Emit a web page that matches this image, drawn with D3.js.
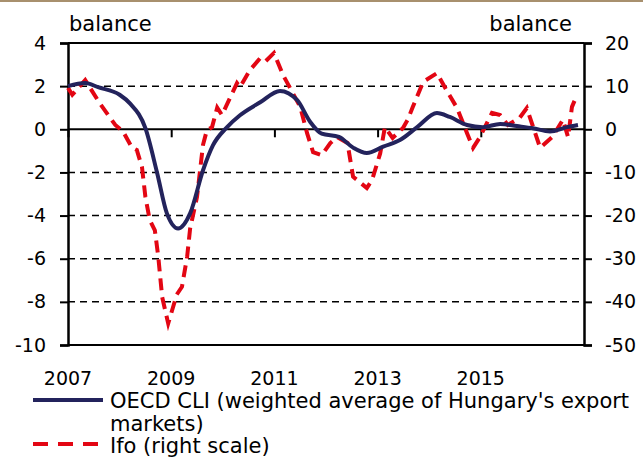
<!DOCTYPE html>
<html>
<head>
<meta charset="utf-8">
<script src="https://cdn.jsdelivr.net/npm/d3@7"></script>
<style>
	body { margin: 0; background: #fff; }
	svg { display: block; font-family: 'DejaVu Sans', sans-serif; }
</style>
</head>
<body>
<svg id="chart" width="643" height="461"></svg>
<script>
// months counted from Jan 2007
const yearLabels = ['2007', '2009', '2011', '2013', '2015'];
const yearTickMonths = [0, 24, 48, 72, 96];
const leftTicks = [4, 2, 0, -2, -4, -6, -8, -10];
const rightTicks = [20, 10, 0, -10, -20, -30, -40, -50];

// OECD CLI, left scale
const cliMonth = [0, 4, 7, 12, 14.4, 18, 20.7, 23, 25.6, 28.4, 31.4, 33.7, 37, 40, 44.7, 49.3, 53.3, 56.3, 59, 63, 66.3, 69.5, 73.3, 77.2, 81.2, 85.8, 88.8, 92.8, 96.5, 100.5, 104.4, 108.1, 112.1, 116, 118.6];
const cliValue = [2.0, 2.15, 1.95, 1.6, 1.2, 0.05, -2.0, -3.9, -4.6, -3.9, -1.9, -0.75, 0.1, 0.65, 1.25, 1.78, 1.35, 0.35, -0.2, -0.35, -0.85, -1.1, -0.8, -0.5, 0.1, 0.75, 0.57, 0.2, 0.1, 0.25, 0.15, 0.05, -0.1, 0.1, 0.2];

// Ifo, right scale
const ifoMonth = [0, 1, 4, 7.4, 11, 12.8, 14.9, 16, 17.2, 18, 19, 20.2, 21, 21.9, 23.3, 25.3, 26.5, 27.7, 28.4, 30, 31.4, 32.3, 33.5, 34.7, 35.8, 39.3, 40, 42.3, 44.7, 46, 47.9, 50, 54, 55.6, 57, 59, 61, 62.6, 65, 66.3, 69.5, 70.7, 72.6, 73.7, 75.5, 77.9, 79, 80.2, 82.6, 85.8, 88, 90.5, 92.8, 94.2, 95.8, 98.6, 100.5, 102.3, 105, 106.7, 109.8, 112.6, 115.1, 116.3, 117.2, 118.4];
const ifoValue = [9.6, 8, 11.4, 6, 1, -0.5, -4.3, -4.8, -8.7, -15.7, -21, -23.4, -29.6, -38.9, -45, -38.3, -36.5, -29.6, -23, -15.7, -3.6, -0.2, 0.5, 5, 3.3, 10.7, 9.8, 13.7, 16.5, 15.8, 17.7, 12.6, 5.2, -0.9, -5.3, -6, -3.2, -1.8, -3.2, -11, -13.6, -11.8, -5.6, 0.5, -2, 0.3, 2.2, 5.2, 11, 13, 9.1, 4.9, -0.9, -4.3, -1.8, 3.8, 3.3, 1, 2.6, 4.9, -4.3, -1.8, 2.2, -1.8, 5.2, 8];

const cliColor = '#23235c';
const ifoColor = '#e30613';

const svg = d3.select('#chart');
const margin = { left: 68, right: 584, top: 43, bottom: 345 };

const x = d3.scaleLinear().domain([0, 120]).range([margin.left, margin.right]);
const yLeft = d3.scaleLinear().domain([-10, 4]).range([margin.bottom, margin.top]);
const yRight = d3.scaleLinear().domain([-50, 20]).range([margin.bottom, margin.top]);

// top frame stripe
svg.append('rect')
	.attr('x', 0).attr('y', 0)
	.attr('width', 643).attr('height', 2)
	.style('fill', '#a8906e');

// gridlines
svg.append('g')
	.selectAll('line')
	.data(leftTicks)
	.enter()
	.append('line')
	.attr('x1', margin.left)
	.attr('x2', margin.right)
	.attr('y1', d => yLeft(d))
	.attr('y2', d => yLeft(d))
	.style('stroke', '#000')
	.style('stroke-width', d => (d == 4 || d == 0 || d == -10) ? 2 : 1.5)
	.style('stroke-dasharray', d => (d == 4 || d == 0 || d == -10) ? null : '7,5');

// left axis
let leftAxis = svg.append('g')
	.attr('transform', 'translate(' + margin.left + ',0)')
	.call(d3.axisLeft(yLeft).tickValues(leftTicks).tickSize(8).tickPadding(14).tickFormat(d => String(d)));

// right axis
let rightAxis = svg.append('g')
	.attr('transform', 'translate(' + margin.right + ',0)')
	.call(d3.axisRight(yRight).tickValues(rightTicks).tickSize(8).tickPadding(13).tickFormat(d => String(d)));

// x ticks along the zero line
let xAxis = svg.append('g')
	.attr('transform', 'translate(0,' + yLeft(0) + ')')
	.call(d3.axisBottom(x).tickValues(yearTickMonths).tickSize(8).tickFormat(''));

[leftAxis, rightAxis, xAxis].forEach(function(axis) {
	axis.select('.domain').style('stroke', '#000').style('stroke-width', 2.5);
	axis.selectAll('.tick line').style('stroke', '#000').style('stroke-width', 2);
	axis.selectAll('.tick text')
		.style('font-family', "'DejaVu Sans', sans-serif")
		.style('font-size', '19px')
		.style('fill', '#000');
});
xAxis.select('.domain').remove();

// year labels at the bottom
svg.append('g')
	.selectAll('text')
	.data(yearTickMonths)
	.enter()
	.append('text')
	.attr('x', d => x(d))
	.attr('y', 385)
	.attr('text-anchor', 'middle')
	.style('font-size', '19px')
	.text((d, i) => yearLabels[i]);

// unit labels
svg.append('text')
	.attr('x', 69).attr('y', 31)
	.style('font-size', '21px')
	.text('balance');
svg.append('text')
	.attr('x', 572).attr('y', 31)
	.attr('text-anchor', 'end')
	.style('font-size', '21px')
	.text('balance');

// series
let cliLine = d3.line()
	.x((d, i) => x(cliMonth[i]))
	.y(d => yLeft(d))
	.curve(d3.curveMonotoneX);

let ifoLine = d3.line()
	.x((d, i) => x(ifoMonth[i]))
	.y(d => yRight(d));

svg.append('path')
	.attr('d', ifoLine(ifoValue))
	.style('fill', 'none')
	.style('stroke', ifoColor)
	.style('stroke-width', 4)
	.style('stroke-dasharray', '12,7');

svg.append('path')
	.attr('d', cliLine(cliValue))
	.style('fill', 'none')
	.style('stroke', cliColor)
	.style('stroke-width', 4);

// legend
let legend = svg.append('g');
legend.append('line')
	.attr('x1', 33).attr('x2', 103)
	.attr('y1', 400).attr('y2', 400)
	.style('stroke', cliColor)
	.style('stroke-width', 4);
legend.append('text')
	.attr('x', 110).attr('y', 408)
	.style('font-size', '21px')
	.text("OECD CLI (weighted average of Hungary's export");
legend.append('text')
	.attr('x', 110).attr('y', 431)
	.style('font-size', '21px')
	.text('markets)');
legend.append('line')
	.attr('x1', 33).attr('x2', 103)
	.attr('y1', 444).attr('y2', 444)
	.style('stroke', ifoColor)
	.style('stroke-width', 4)
	.style('stroke-dasharray', '15,10');
legend.append('text')
	.attr('x', 110).attr('y', 453)
	.style('font-size', '21px')
	.text('Ifo (right scale)');
</script>
</body>
</html>
